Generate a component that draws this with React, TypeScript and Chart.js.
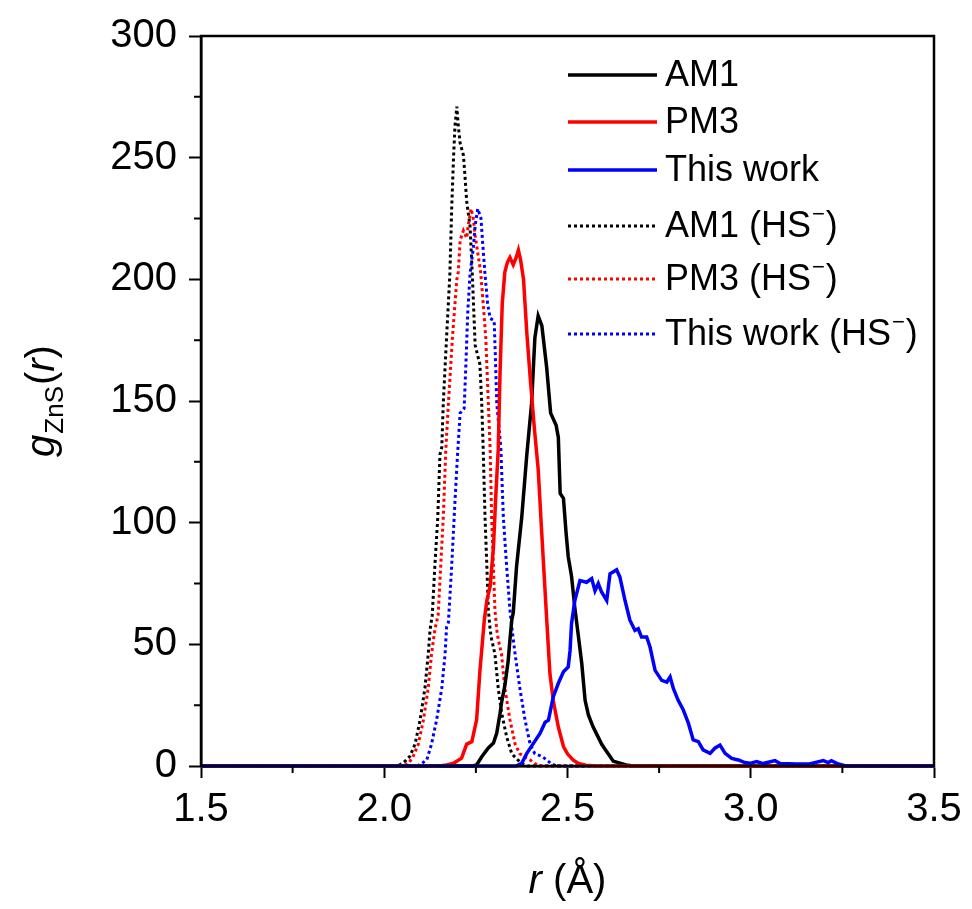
import React, { useEffect, useRef } from "react";
import { Chart, registerables } from "chart.js";

Chart.register(...registerables);

// ---- data (r in Å, g_ZnS(r)) ----
const rAM1 = [1.5, 2.24, 2.252, 2.266, 2.284, 2.298, 2.307, 2.316, 2.32, 2.329, 2.338, 2.343, 2.348, 2.352, 2.361, 2.375, 2.389, 2.402, 2.411, 2.42, 2.43, 2.443, 2.454, 2.469, 2.475, 2.48, 2.489, 2.496, 2.502, 2.511, 2.52, 2.53, 2.539, 2.548, 2.557, 2.57, 2.58, 2.593, 2.602, 2.611, 2.625, 2.643, 2.66, 2.68, 3.5];
const gAM1 = [0, 0, 0.4, 3.8, 7.4, 9.4, 13.5, 21.7, 26, 33, 43, 52, 60, 63, 82, 102, 128, 149, 176, 185, 181, 164, 145, 140, 135, 112, 110, 96, 86, 78, 65, 53, 42, 27, 21, 16, 13, 9, 7, 5, 2, 1.2, 0.4, 0, 0];

const rPM3 = [1.5, 2.15, 2.17, 2.19, 2.211, 2.225, 2.239, 2.252, 2.261, 2.273, 2.28, 2.289, 2.298, 2.304, 2.311, 2.316, 2.322, 2.329, 2.336, 2.343, 2.352, 2.36, 2.366, 2.372, 2.38, 2.389, 2.398, 2.41, 2.42, 2.43, 2.443, 2.452, 2.461, 2.475, 2.489, 2.5, 2.515, 2.53, 2.55, 2.58, 3.5];
const gPM3 = [0, 0, 0.4, 1.2, 3.2, 9, 10, 19, 39, 60, 68, 74, 90, 110, 130, 162, 190, 203, 207, 209, 206, 209, 212, 208, 200, 178, 160, 138, 122, 95, 61, 38, 27, 16, 8, 5, 2.5, 1, 0.3, 0, 0];

const rThis = [1.5, 2.36, 2.375, 2.389, 2.407, 2.425, 2.439, 2.448, 2.461, 2.475, 2.489, 2.502, 2.507, 2.511, 2.52, 2.534, 2.552, 2.566, 2.575, 2.584, 2.593, 2.607, 2.616, 2.634, 2.643, 2.657, 2.67, 2.684, 2.693, 2.702, 2.716, 2.725, 2.739, 2.757, 2.771, 2.78, 2.789, 2.802, 2.816, 2.83, 2.843, 2.857, 2.87, 2.889, 2.902, 2.916, 2.93, 2.948, 2.966, 2.984, 2.998, 3.016, 3.034, 3.066, 3.08, 3.125, 3.16, 3.198, 3.211, 3.22, 3.239, 3.26, 3.5];
const gThis = [0, 0, 1.1, 5.2, 9.3, 13.4, 18, 18.8, 28.4, 34, 38.7, 40.7, 47.5, 58.5, 68, 76.2, 75.5, 77, 72, 75, 71.5, 68, 79, 80.6, 77.6, 68, 60, 55.7, 56.4, 53, 53, 49, 39.3, 35.2, 34.5, 36.6, 31.8, 27, 23, 17.5, 10.7, 10, 6.6, 5.2, 7.3, 8.6, 5.2, 3.1, 2.5, 1.4, 1.1, 1.8, 1, 2.2, 1, 0.8, 0.8, 2.2, 1.4, 2.2, 0.8, 0, 0];

const rAM1HS = [1.5, 2.03, 2.043, 2.057, 2.07, 2.084, 2.098, 2.111, 2.12, 2.125, 2.131, 2.138, 2.146, 2.152, 2.157, 2.161, 2.17, 2.179, 2.184, 2.189, 2.193, 2.198, 2.202, 2.207, 2.216, 2.22, 2.225, 2.234, 2.24, 2.248, 2.261, 2.266, 2.27, 2.275, 2.28, 2.284, 2.289, 2.293, 2.302, 2.311, 2.32, 2.334, 2.348, 2.361, 2.375, 2.39, 3.5];
const gAM1HS = [0, 0, 0.5, 2, 4, 9, 19, 32, 46, 56, 62, 82, 102, 128, 131, 149, 176, 202, 229, 250, 263, 271, 263, 256, 251, 243, 232, 222, 203, 173, 165, 149, 130, 102, 82, 64, 56, 52, 46, 32, 22, 12, 5, 3, 1, 0, 0];

const rPM3HS = [1.5, 2.05, 2.066, 2.079, 2.093, 2.107, 2.12, 2.129, 2.138, 2.147, 2.154, 2.161, 2.168, 2.175, 2.186, 2.198, 2.202, 2.207, 2.216, 2.225, 2.229, 2.237, 2.243, 2.248, 2.255, 2.263, 2.27, 2.277, 2.284, 2.289, 2.293, 2.298, 2.302, 2.307, 2.311, 2.32, 2.329, 2.343, 2.357, 2.37, 2.38, 2.398, 2.41, 2.43, 3.5];
const gPM3HS = [0, 0, 1, 4, 9, 19, 32, 46, 56, 62, 82, 102, 130, 149, 176, 200, 203, 216, 220, 217, 222, 229, 225, 218, 211, 203, 190, 176, 149, 130, 102, 82, 64, 56, 52, 46, 32, 19, 9, 5, 4, 2.5, 1, 0, 0];

const rThisHS = [1.5, 2.09, 2.102, 2.116, 2.129, 2.143, 2.157, 2.166, 2.17, 2.175, 2.184, 2.193, 2.2, 2.207, 2.218, 2.222, 2.228, 2.234, 2.243, 2.248, 2.255, 2.264, 2.268, 2.275, 2.282, 2.289, 2.3, 2.303, 2.307, 2.318, 2.325, 2.334, 2.343, 2.348, 2.357, 2.37, 2.384, 2.398, 2.411, 2.43, 2.443, 2.455, 2.47, 3.5];
const gThisHS = [0, 0, 1, 2.5, 9, 19, 32, 46, 57, 59, 82, 109, 128, 145, 147, 162, 187, 202, 213, 222, 229, 225, 216, 202, 190, 184, 183, 169, 149, 131, 102, 82, 64, 57, 46, 32, 19, 9, 5, 4, 2.5, 1, 0, 0];

const seriesLabels = ["AM1", "PM3", "This work", "AM1 (HS", "PM3 (HS", "This work (HS"];
const xTicks = [1.5, 2.0, 2.5, 3.0, 3.5];
const yTicks = [0, 50, 100, 150, 200, 250, 300];

const FONT = '"Liberation Sans", Arial, sans-serif';

function zip(r: number[], g: number[]) {
  const n = Math.min(r.length, g.length);
  const out: { x: number; y: number }[] = [];
  for (let i = 0; i < n; i++) out.push({ x: r[i], y: g[i] });
  return out;
}

const decorPlugin = {
  id: "decor",
  afterDraw(chart: any) {
    const ctx = chart.ctx as CanvasRenderingContext2D;
    const a = chart.chartArea;
    const xs = chart.scales.x;
    const ys = chart.scales.y;
    ctx.save();
    // frame
    ctx.strokeStyle = "#000";
    ctx.lineWidth = 2.5;
    ctx.strokeRect(a.left, a.top, a.right - a.left, a.bottom - a.top);
    // minor ticks
    ctx.lineWidth = 2;
    ctx.beginPath();
    for (let v = 25; v < 300; v += 50) {
      const y = ys.getPixelForValue(v);
      ctx.moveTo(a.left, y);
      ctx.lineTo(a.left - 7, y);
    }
    for (let v = 1.75; v < 3.5; v += 0.5) {
      const x = xs.getPixelForValue(v);
      ctx.moveTo(x, a.bottom);
      ctx.lineTo(x, a.bottom + 7);
    }
    ctx.stroke();

    // legend
    const colors = ["#000000", "#ff0000", "#0000ff", "#000000", "#ff0000", "#0000ff"];
    const rows = [75, 122, 170, 226, 279, 334];
    for (let i = 0; i < 6; i++) {
      const y = rows[i];
      ctx.strokeStyle = colors[i];
      ctx.lineWidth = i < 3 ? 3.5 : 3;
      ctx.setLineDash(i < 3 ? [] : [3, 3]);
      ctx.beginPath();
      ctx.moveTo(568, y);
      ctx.lineTo(657, y);
      ctx.stroke();
      ctx.setLineDash([]);
      ctx.fillStyle = "#000";
      ctx.font = `36px ${FONT}`;
      ctx.textBaseline = "middle";
      ctx.textAlign = "left";
      let x = 665;
      ctx.fillText(seriesLabels[i], x, y + 1);
      if (i >= 3) {
        x += ctx.measureText(seriesLabels[i]).width;
        ctx.font = `22px ${FONT}`;
        ctx.fillText("\u2212", x + 1, y - 11);
        x += ctx.measureText("\u2212").width + 2;
        ctx.font = `36px ${FONT}`;
        ctx.fillText(")", x, y + 1);
      }
    }

    // x title
    ctx.fillStyle = "#000";
    ctx.textBaseline = "alphabetic";
    ctx.font = `italic 40px ${FONT}`;
    const wr = ctx.measureText("r").width;
    ctx.font = `40px ${FONT}`;
    const wrest = ctx.measureText(" (\u00C5)").width;
    const cx = (a.left + a.right) / 2;
    const sx = cx - (wr + wrest) / 2;
    ctx.font = `italic 40px ${FONT}`;
    ctx.fillText("r", sx, 893);
    ctx.font = `40px ${FONT}`;
    ctx.fillText(" (\u00C5)", sx + wr, 893);

    // y title (rotated)
    ctx.save();
    ctx.translate(54, (a.top + a.bottom) / 2);
    ctx.rotate(-Math.PI / 2);
    ctx.font = `italic 40px ${FONT}`;
    const wg = ctx.measureText("g").width;
    ctx.font = `26px ${FONT}`;
    const wsub = ctx.measureText("ZnS").width;
    ctx.font = `40px ${FONT}`;
    const wp1 = ctx.measureText("(").width;
    ctx.font = `italic 40px ${FONT}`;
    const wr2 = ctx.measureText("r").width;
    ctx.font = `40px ${FONT}`;
    const wp2 = ctx.measureText(")").width;
    const total = wg + wsub + wp1 + wr2 + wp2 + 2;
    let tx = -total / 2;
    ctx.textAlign = "left";
    ctx.font = `italic 40px ${FONT}`;
    ctx.fillText("g", tx, 0);
    tx += wg + 1;
    ctx.font = `26px ${FONT}`;
    ctx.fillText("ZnS", tx, 9);
    tx += wsub + 1;
    ctx.font = `40px ${FONT}`;
    ctx.fillText("(", tx, 0);
    tx += wp1;
    ctx.font = `italic 40px ${FONT}`;
    ctx.fillText("r", tx, 0);
    tx += wr2;
    ctx.font = `40px ${FONT}`;
    ctx.fillText(")", tx, 0);
    ctx.restore();

    ctx.restore();
  },
};

export default function App() {
  const ref = useRef<HTMLCanvasElement | null>(null);
  useEffect(() => {
    if (!ref.current) return;
    const mk = (label: string, r: number[], g: number[], color: string, dotted: boolean, order: number) => ({
      label,
      data: zip(r, g),
      borderColor: color,
      backgroundColor: color,
      borderWidth: dotted ? 3 : 3.5,
      borderDash: dotted ? [3, 3] : [],
      pointRadius: 0,
      tension: 0,
      fill: false,
      clip: 6,
      order,
    });
    const chart = new Chart(ref.current, {
      type: "line",
      data: {
        datasets: [
          mk("AM1 (HS−)", rAM1HS, gAM1HS, "#000000", true, 6),
          mk("PM3 (HS−)", rPM3HS, gPM3HS, "#ff0000", true, 5),
          mk("This work (HS−)", rThisHS, gThisHS, "#0000ff", true, 4),
          mk("AM1", rAM1, gAM1, "#000000", false, 3),
          mk("PM3", rPM3, gPM3, "#ff0000", false, 2),
          mk("This work", rThis, gThis, "#0000ff", false, 1),
        ] as any,
      },
      options: {
        animation: false,
        responsive: false,
        maintainAspectRatio: false,
        layout: { padding: { left: 0, right: 38, top: 34, bottom: 0 } },
        plugins: { legend: { display: false }, tooltip: { enabled: false }, title: { display: false } },
        scales: {
          x: {
            type: "linear",
            min: 1.5,
            max: 3.5,
            afterBuildTicks: (s: any) => {
              s.ticks = xTicks.map((v) => ({ value: v }));
            },
            afterFit: (s: any) => {
              s.height = 143;
            },
            ticks: {
              color: "#000",
              font: { family: FONT, size: 40 },
              padding: 8,
              maxRotation: 0,
              callback: (v: any) => Number(v).toFixed(1),
            },
            grid: { display: true, drawOnChartArea: false, drawTicks: true, tickLength: 12, tickWidth: 2, tickColor: "#000" },
            border: { display: true, color: "#000", width: 2.5 },
          },
          y: {
            type: "linear",
            min: 0,
            max: 300,
            afterBuildTicks: (s: any) => {
              s.ticks = yTicks.map((v) => ({ value: v }));
            },
            afterFit: (s: any) => {
              s.width = 201;
            },
            ticks: {
              color: "#000",
              font: { family: FONT, size: 40 },
              padding: 12,
              callback: (v: any) => String(v),
            },
            grid: { display: true, drawOnChartArea: false, drawTicks: true, tickLength: 12, tickWidth: 2, tickColor: "#000" },
            border: { display: true, color: "#000", width: 2.5 },
          },
        },
      },
      plugins: [decorPlugin],
    } as any);
    return () => chart.destroy();
  }, []);
  return (
    <div style={{ position: "fixed", left: 0, top: 0, width: 972, height: 909, background: "#fff" }}>
      <canvas ref={ref} width={972} height={909} style={{ width: 972, height: 909, display: "block" }} />
    </div>
  );
}
